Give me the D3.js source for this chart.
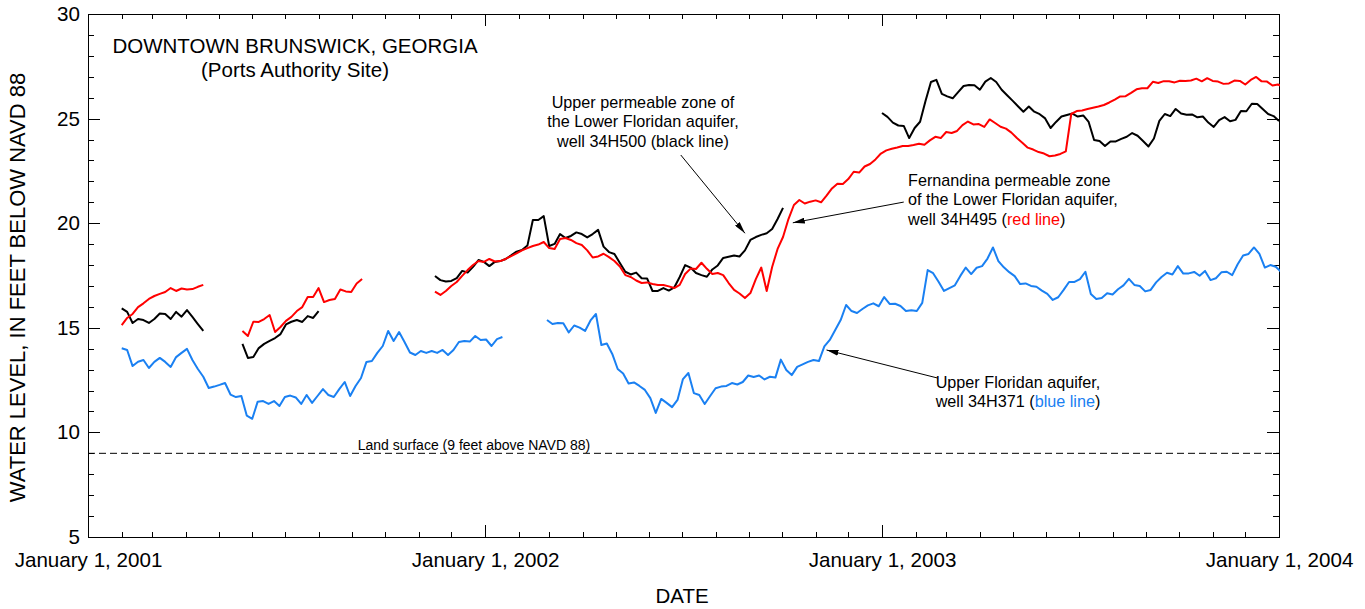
<!DOCTYPE html>
<html>
<head>
<meta charset="utf-8">
<script src="https://cdn.jsdelivr.net/npm/d3@7/dist/d3.min.js"></script>
<style>
  body { margin: 0; background: #fff; }
  svg { display: block; font-family: "Liberation Sans", Arial, Helvetica, sans-serif; }
</style>
</head>
<body>
<svg width="1365" height="609"></svg>
<script>
// Readings every 5 days, feet
var passoDias = 5;

// well 34H500 (black) - upper permeable zone of the Lower Floridan
var black1 = [15.93, 15.76, 15.23, 15.42, 15.37, 15.23, 15.42, 15.68, 15.66, 15.42,
              15.76, 15.53, 15.85, 15.52, 15.18, 14.85];
var black2 = [14.23, 13.56, 13.60, 14.03, 14.23, 14.37, 14.51, 14.70, 15.16, 15.29,
              15.37, 15.28, 15.56, 15.47, 15.80];
var black3 = [17.48, 17.28, 17.21, 17.24, 17.37, 17.72, 17.64, 17.91, 18.24, 18.15,
              17.95, 18.15, 18.19, 18.29, 18.46, 18.64, 18.72, 18.93, 20.15, 20.15,
              20.34, 18.91, 19.01, 19.48, 19.29, 19.39, 19.56, 19.48, 19.32, 19.48,
              19.68, 18.88, 18.62, 18.53, 18.10, 17.68, 17.55, 17.64, 17.37, 17.36,
              16.76, 16.76, 16.90, 16.78, 16.93, 17.43, 18.00, 17.88, 17.62, 17.52,
              17.44, 17.79, 17.98, 18.34, 18.40, 18.46, 18.41, 18.70, 19.20, 19.34,
              19.44, 19.52, 19.72, 20.20, 20.73];
var black4 = [25.27, 25.08, 24.81, 24.67, 24.65, 24.07, 24.55, 24.85, 25.84, 26.75,
              26.85, 26.18, 26.06, 25.97, 26.27, 26.56, 26.61, 26.59, 26.38, 26.77,
              26.94, 26.75, 26.38, 26.12, 25.86, 25.59, 25.33, 25.58, 25.33, 25.21,
              25.01, 24.55, 24.84, 25.10, 25.17, 25.24, 25.10, 25.15, 24.84, 23.98,
              23.93, 23.69, 23.91, 23.91, 24.03, 24.13, 24.31, 24.18, 23.93, 23.67,
              24.05, 24.89, 25.22, 25.12, 25.46, 25.24, 25.18, 25.20, 25.06, 25.10,
              24.81, 24.60, 24.93, 25.07, 24.87, 24.94, 25.36, 25.35, 25.71, 25.70,
              25.46, 25.22, 25.12, 24.89];

// well 34H495 (red) - Fernandina permeable zone
var red1 = [15.13, 15.47, 15.66, 15.99, 16.17, 16.38, 16.52, 16.62, 16.71, 16.90,
            16.76, 16.88, 16.83, 16.85, 16.96, 17.05];
var red2 = [14.85, 14.61, 15.29, 15.28, 15.42, 15.61, 14.80, 15.04, 15.33, 15.52,
            15.80, 15.99, 16.47, 16.47, 16.90, 16.23, 16.33, 16.38, 16.83, 16.74,
            16.71, 17.12, 17.33];
var red3 = [16.73, 16.57, 16.76, 17.00, 17.19, 17.48, 17.76, 18.00, 18.19, 18.15,
            18.29, 18.17, 18.19, 18.29, 18.43, 18.56, 18.70, 18.81, 18.91, 18.98,
            19.10, 18.81, 18.77, 19.24, 19.29, 19.20, 19.05, 18.96, 18.70, 18.36,
            18.41, 18.54, 18.38, 18.19, 17.93, 17.52, 17.43, 17.26, 17.14, 17.17,
            17.09, 17.05, 17.05, 16.98, 16.90, 17.05, 17.57, 17.83, 17.81, 18.11,
            17.82, 17.57, 17.62, 17.52, 17.14, 16.81, 16.64, 16.42, 16.66, 17.33,
            17.88, 16.76, 17.91, 18.77, 19.34, 20.20, 20.87, 21.11, 20.94, 21.03,
            21.09, 21.00, 21.32, 21.66, 21.89, 21.87, 22.11, 22.46, 22.42, 22.71,
            22.83, 23.05, 23.33, 23.48, 23.56, 23.62, 23.69, 23.69, 23.74, 23.80,
            23.75, 23.96, 24.13, 24.07, 24.36, 24.31, 24.41, 24.69, 24.86, 24.72,
            24.74, 24.60, 24.96, 24.79, 24.61, 24.52, 24.33, 24.07, 23.85, 23.61,
            23.52, 23.40, 23.33, 23.20, 23.24, 23.31, 23.43, 25.22, 25.36, 25.39,
            25.46, 25.52, 25.58, 25.65, 25.77, 25.91, 26.06, 26.07, 26.23, 26.40,
            26.45, 26.45, 26.76, 26.70, 26.79, 26.79, 26.73, 26.81, 26.80, 26.82,
            26.91, 26.78, 26.93, 26.80, 26.77, 26.66, 26.68, 26.82, 26.80, 26.63,
            26.85, 26.99, 26.78, 26.77, 26.58, 26.63, 26.51];

// well 34H371 (blue) - Upper Floridan aquifer
var blue1 = [14.02, 13.94, 13.17, 13.38, 13.46, 13.08, 13.37, 13.56, 13.37, 13.13,
             13.60, 13.80, 13.99, 13.46, 13.03, 12.66, 12.12, 12.19, 12.27, 12.36,
             11.81, 11.69, 11.74, 10.80, 10.65, 11.47, 11.50, 11.36, 11.50, 11.26,
             11.69, 11.76, 11.67, 11.36, 11.79, 11.41, 11.74, 12.07, 11.79, 11.69,
             12.07, 12.41, 11.74, 12.22, 12.60, 13.37, 13.41, 13.80, 14.13, 14.85,
             14.37, 14.80, 14.32, 13.82, 13.70, 13.89, 13.80, 13.89, 13.80, 13.94,
             13.70, 13.94, 14.32, 14.37, 14.34, 14.61, 14.42, 14.44, 14.13, 14.46,
             14.56];
var blue2 = [15.37, 15.18, 15.23, 15.22, 14.78, 15.11, 15.01, 14.85, 15.35, 15.66,
             14.18, 14.25, 13.75, 13.03, 12.82, 12.34, 12.39, 12.22, 12.03, 11.64,
             10.93, 11.60, 11.41, 11.21, 11.55, 12.55, 12.84, 11.88, 11.79, 11.36,
             11.74, 12.11, 12.19, 12.22, 12.36, 12.29, 12.41, 12.72, 12.65, 12.72,
             12.53, 12.66, 12.62, 13.48, 12.98, 12.74, 13.13, 13.25, 13.37, 13.46,
             13.41, 14.11, 14.42, 14.89, 15.37, 16.09, 15.80, 15.71, 15.90, 16.07,
             16.17, 16.03, 16.47, 16.14, 16.15, 16.04, 15.80, 15.84, 15.80, 16.19,
             17.76, 17.61, 17.20, 16.76, 16.90, 17.03, 17.48, 17.88, 17.57, 17.87,
             17.95, 18.31, 18.84, 18.19, 17.89, 17.66, 17.47, 17.09, 17.12, 17.00,
             16.96, 16.78, 16.62, 16.33, 16.46, 16.81, 17.19, 17.19, 17.33, 17.68,
             16.62, 16.38, 16.42, 16.65, 16.59, 16.84, 17.03, 17.34, 17.05, 17.00,
             16.74, 16.81, 17.17, 17.43, 17.63, 17.55, 17.95, 17.59, 17.60, 17.67,
             17.49, 17.72, 17.28, 17.37, 17.65, 17.68, 17.52, 18.04, 18.46, 18.53,
             18.84, 18.53, 17.88, 18.00, 17.92, 17.67];

// record segments: first reading date of each piece
var trechos = [
  {cor: "#000000", inicio: "2001-02-01", valores: black1},
  {cor: "#000000", inicio: "2001-05-23", valores: black2},
  {cor: "#000000", inicio: "2001-11-16", valores: black3},
  {cor: "#000000", inicio: "2003-01-01", valores: black4},
  {cor: "#ff0000", inicio: "2001-02-01", valores: red1},
  {cor: "#ff0000", inicio: "2001-05-23", valores: red2},
  {cor: "#ff0000", inicio: "2001-11-16", valores: red3},
  {cor: "#1a80f2", inicio: "2001-02-01", valores: blue1},
  {cor: "#1a80f2", inicio: "2002-02-27", valores: blue2}
];

var superficie = 9;   // land surface, feet

var svg = d3.select("svg");
var parse = d3.utcParse("%Y-%m-%d");
var esq = 88, dir = 1279, topo = 14, base = 537;

var x = d3.scaleUtc()
    .domain([parse("2001-01-01"), parse("2004-01-01")])
    .range([esq, dir]);
var y = d3.scaleLinear()
    .domain([5, 30])
    .range([base, topo]);

var anos = d3.utcYear.range(parse("2001-01-01"), parse("2004-01-02"));
var meses = d3.utcMonth.range(parse("2001-01-01"), parse("2004-01-02"))
    .filter(function(m){ return m.getUTCMonth() != 0; });
var pes = d3.range(5, 31).filter(function(v){ return v % 5 != 0; });
var pesMaior = d3.range(5, 31, 5);

function limpa(g) {
  g.select(".domain").remove();
  g.attr("font-family", null).attr("font-size", 20.6);
  g.selectAll("line").attr("stroke", "#000").attr("shape-rendering", "crispEdges");
  g.selectAll("text").attr("fill", "#000");
}

// bottom axis: months small, years large
svg.append("g").attr("transform", "translate(0," + base + ")")
  .call(d3.axisBottom(x).tickValues(meses).tickSize(-5).tickSizeOuter(0).tickFormat(""))
  .call(limpa);
svg.append("g").attr("transform", "translate(0," + base + ")")
  .call(d3.axisBottom(x).tickValues(anos).tickSize(-12).tickSizeOuter(0).tickPadding(15)
        .tickFormat(function(d){ return "January 1, " + d.getUTCFullYear(); }))
  .call(limpa);
// top axis, mirrored
svg.append("g").attr("transform", "translate(0," + topo + ")")
  .call(d3.axisTop(x).tickValues(meses).tickSize(-5).tickSizeOuter(0).tickFormat(""))
  .call(limpa);
svg.append("g").attr("transform", "translate(0," + topo + ")")
  .call(d3.axisTop(x).tickValues(anos).tickSize(-12).tickSizeOuter(0).tickFormat(""))
  .call(limpa);
// left axis
svg.append("g").attr("transform", "translate(" + esq + ",0)")
  .call(d3.axisLeft(y).tickValues(pes).tickSize(-6).tickSizeOuter(0).tickFormat(""))
  .call(limpa);
svg.append("g").attr("transform", "translate(" + esq + ",0)")
  .call(d3.axisLeft(y).tickValues(pesMaior).tickSize(-12).tickSizeOuter(0).tickPadding(8)
        .tickFormat(d3.format("d")))
  .call(limpa);
// right axis, mirrored
svg.append("g").attr("transform", "translate(" + dir + ",0)")
  .call(d3.axisRight(y).tickValues(pes).tickSize(-6).tickSizeOuter(0).tickFormat(""))
  .call(limpa);
svg.append("g").attr("transform", "translate(" + dir + ",0)")
  .call(d3.axisRight(y).tickValues(pesMaior).tickSize(-12).tickSizeOuter(0).tickFormat(""))
  .call(limpa);

// frame
svg.append("rect")
    .attr("x", esq + 0.5).attr("y", topo + 0.5)
    .attr("width", dir - esq).attr("height", base - topo)
    .attr("fill", "none").attr("stroke", "#000").attr("stroke-width", 1);

svg.append("clipPath").attr("id", "area")
  .append("rect").attr("x", esq).attr("y", topo)
    .attr("width", dir - esq + 1).attr("height", base - topo);

// land surface
svg.append("line")
    .attr("x1", esq).attr("x2", dir)
    .attr("y1", y(superficie)).attr("y2", y(superficie))
    .attr("stroke", "#000").attr("stroke-width", 1)
    .attr("stroke-dasharray", "7,4");
svg.append("text")
    .attr("x", x(parse("2001-09-06"))).attr("y", y(superficie) - 3)
    .attr("font-size", 14)
    .text("Land surface (9 feet above NAVD 88)");

// hydrographs
var linha = d3.line()
    .x(function(d){ return x(d.data); })
    .y(function(d){ return y(d.valor); });

svg.append("g").attr("clip-path", "url(#area)")
  .selectAll("path")
  .data(trechos)
  .enter().append("path")
    .attr("fill", "none")
    .attr("stroke", function(d){ return d.cor; })
    .attr("stroke-width", 2)
    .attr("stroke-linejoin", "round")
    .attr("d", function(t){
      var d0 = parse(t.inicio);
      var pts = t.valores.map(function(v, i){
        return {data: d3.utcDay.offset(d0, i * passoDias), valor: v};
      });
      return linha(pts);
    });

// titles
svg.append("text").attr("x", 295).attr("y", 53).attr("text-anchor", "middle")
    .attr("font-size", 20.5).text("DOWNTOWN BRUNSWICK, GEORGIA");
svg.append("text").attr("x", 295).attr("y", 77).attr("text-anchor", "middle")
    .attr("font-size", 20.5).text("(Ports Authority Site)");

svg.append("text").attr("x", 682).attr("y", 603).attr("text-anchor", "middle")
    .attr("font-size", 20.5).text("DATE");
svg.append("text")
    .attr("transform", "translate(25," + ((topo + base) / 2 + 12) + ") rotate(-90)")
    .attr("text-anchor", "middle").attr("font-size", 22)
    .text("WATER LEVEL, IN FEET BELOW NAVD 88");

// annotations: arrow tip on the curve, tail near the label
svg.append("defs").append("marker")
    .attr("id", "seta")
    .attr("viewBox", "0 0 12 6")
    .attr("markerWidth", 12).attr("markerHeight", 6)
    .attr("markerUnits", "userSpaceOnUse")
    .attr("refX", 12).attr("refY", 3)
    .attr("orient", "auto")
  .append("path").attr("d", "M0,0L12,3L0,6Z").attr("fill", "#000");

var notas = [
  {de: ["2002-06-30", 23.26], para: ["2002-08-28", 19.52]},
  {de: ["2003-01-21", 21.01], para: ["2002-10-11", 20.02]},
  {de: ["2003-02-21", 12.60], para: ["2002-11-11", 13.94]}
];
svg.selectAll(".seta")
  .data(notas)
  .enter().append("line")
    .attr("class", "seta")
    .attr("x1", function(d){ return x(parse(d.de[0])); })
    .attr("y1", function(d){ return y(d.de[1]); })
    .attr("x2", function(d){ return x(parse(d.para[0])); })
    .attr("y2", function(d){ return y(d.para[1]); })
    .attr("stroke", "#000").attr("stroke-width", 1)
    .attr("marker-end", "url(#seta)");

function bloco(xp, yp, ancora, linhas) {
  var t = svg.append("text").attr("font-size", 16.2).attr("text-anchor", ancora);
  linhas.forEach(function(l, i){
    var ts = t.append("tspan").attr("x", xp).attr("y", yp + i * 19.3);
    l.forEach(function(p){
      ts.append("tspan").attr("fill", p[1] || "#000").text(p[0]);
    });
  });
}
bloco(643, 108, "middle", [
  [["Upper permeable zone of"]],
  [["the Lower Floridan aquifer,"]],
  [["well 34H500 (black line)"]]
]);
bloco(908, 186, "start", [
  [["Fernandina permeable zone"]],
  [["of the Lower Floridan aquifer,"]],
  [["well 34H495 ("], ["red line", "#ff0000"], [")"]]
]);
bloco(1018, 388, "middle", [
  [["Upper Floridan aquifer,"]],
  [["well 34H371 ("], ["blue line", "#1a80f2"], [")"]]
]);
</script>
</body>
</html>
